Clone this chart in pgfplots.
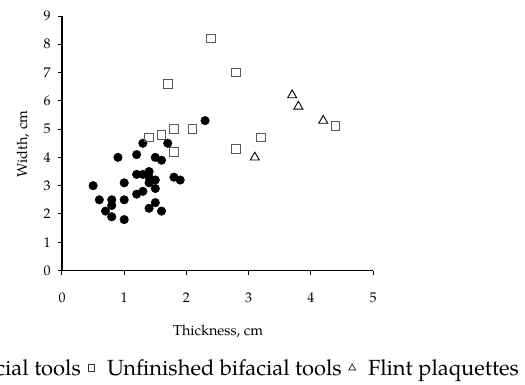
\documentclass[border=0pt]{standalone}
\usepackage{fontspec}
\setmainfont{TeX Gyre Pagella}
\usepackage{pgfplots}
\pgfplotsset{compat=1.18}
\begin{document}
\begin{tikzpicture}
\begin{axis}[name=ax,
  scale only axis, width=311bp, height=254.5bp,
  xmin=0, xmax=5, ymin=0, ymax=9,
  axis lines=left,
  axis line style={-, line width=1.1pt},
  xtick={0,1,2,3,4,5}, ytick={0,1,...,9},
  tick align=outside, major tick length=4bp,
  tick style={black, line width=1pt},
  /pgf/number format/assume math mode=true,
  ticklabel style={font=\fontsize{14}{16}\selectfont},
  xticklabel shift=15bp,
  yticklabel shift=4bp,
  xlabel={Thickness, cm}, ylabel={Width, cm},
  label style={font=\fontsize{14.5}{16}\selectfont},
  xlabel style={at={(axis description cs:0.502,0)}, anchor=center, yshift=-61bp},
  ylabel style={at={(axis description cs:-0.1254,0.497)}, anchor=center},
  legend columns=3,
  legend image code/.code={\draw[mark repeat=2,mark phase=2,#1] plot coordinates {(0cm,0cm)(0.13cm,0cm)(0.26cm,0cm)};},
  legend style={at={(axis description cs:1.478,-0.383)}, anchor=east, draw=none,
    font=\fontsize{22}{24}\selectfont, inner sep=0pt,
    nodes={inner sep=2.5bp},
    /tikz/every even column/.append style={column sep=4.5bp},
    /tikz/every odd column/.append style={column sep=10bp}},
]
\addplot[only marks, mark=*, mark size=4.3bp, mark options={fill=black, draw=black}, legend image post style={mark size=3.3bp}] coordinates {
(0.5,3.0) (0.6,2.5) (0.7,2.1) (0.8,2.5) (0.8,2.3) (0.8,1.9) (0.9,4.0)
(1.0,3.1) (1.0,2.5) (1.0,1.8) (1.2,4.1) (1.2,3.4) (1.2,2.7) (1.3,4.5)
(1.3,3.4) (1.3,2.8) (1.4,3.5) (1.4,3.3) (1.4,3.1) (1.4,2.2) (1.5,4.0)
(1.5,3.2) (1.5,2.9) (1.5,2.4) (1.6,3.9) (1.6,2.1) (1.7,4.5) (1.8,3.3)
(1.9,3.2) (2.3,5.3)
};
\addlegendentry{Finished bifacial tools}
\addplot[only marks, mark=square, mark size=4.3bp, mark options={draw=black!65, line width=1pt}, legend image post style={mark size=3.4bp, mark options={draw=black!80, line width=0.6pt}}] coordinates {
(1.7,6.6) (1.4,4.7) (1.6,4.8) (1.8,5.0) (2.1,5.0) (1.8,4.2)
(2.4,8.2) (2.8,7.0) (2.8,4.3) (3.2,4.7) (4.4,5.1)
};
\addlegendentry{Unfinished bifacial tools}
\addplot[only marks, mark=triangle, mark size=5.2bp, mark options={draw=black, line width=0.9pt}, legend image post style={mark size=4bp, mark options={line width=0.6pt}}] coordinates {
(3.7,6.2) (3.8,5.8) (4.2,5.3) (3.1,4.0)
};
\addlegendentry{Flint plaquettes}
\end{axis}
\pgfresetboundingbox
\path[use as bounding box] ([xshift=-62bp,yshift=-114.5bp]ax.south west) rectangle ([xshift=463bp,yshift=270.5bp]ax.south west);
\end{tikzpicture}
\end{document}
